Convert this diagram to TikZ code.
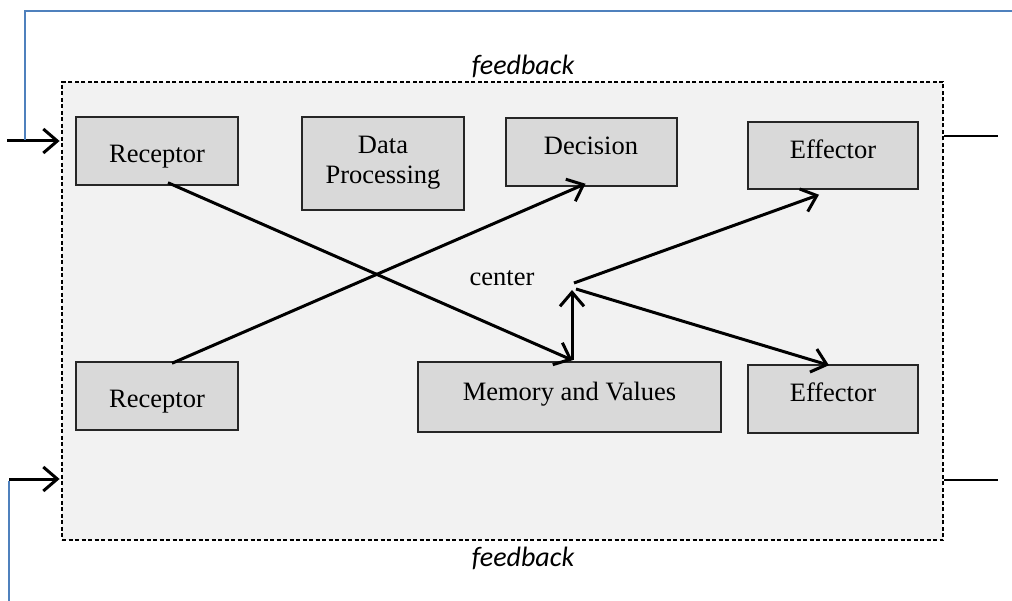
\documentclass[tikz,border=0pt]{standalone}
\usepackage{fontspec}
\setmainfont{Liberation Serif}
\newfontfamily\fbfont{Carlito}
\usetikzlibrary{arrows.meta,calc}
\definecolor{fbblue}{RGB}{79,129,189}
\definecolor{outerfill}{RGB}{242,242,242}
\definecolor{boxfill}{RGB}{217,217,217}
\tikzset{
  unit/.style={draw=black!85, line width=1.5pt, fill=boxfill, inner sep=0pt},
  lbl/.style={inner sep=0pt, anchor=base, align=center,
    font=\fontsize{26.5}{30}\selectfont},
  arr/.style={line width=3pt, -{Straight Barb[length=14pt,width=24pt,line width=3pt]}},
  plain/.style={line width=2.4pt},
  fbline/.style={draw=fbblue, line width=2.4pt},
  fblabel/.style={font=\fbfont\itshape\fontsize{28}{32}\selectfont, inner sep=0pt},
}
\begin{document}
\begin{tikzpicture}[x=1pt,y=-1pt]
\useasboundingbox (0,0) rectangle (1012,601);
% outer frame
\node[draw, fill=outerfill, line width=2.8pt, dash pattern=on 4pt off 2.5pt, minimum width=881pt, minimum height=458pt, inner sep=0pt] (frame) at (502.5,311) {};
% units
\node[unit, minimum width=162pt, minimum height=68pt] (rec1) at (157,151) {};
\node[unit, minimum width=162pt, minimum height=93pt] (dp) at (383,163.5) {};
\node[unit, minimum width=171pt, minimum height=68pt] (dec) at (591.5,152) {};
\node[unit, minimum width=170pt, minimum height=67pt] (eff1) at (833,155.5) {};
\node[unit, minimum width=162pt, minimum height=68pt] (rec2) at (157,396) {};
\node[unit, minimum width=303pt, minimum height=70pt] (mem) at (569.5,397) {};
\node[unit, minimum width=170pt, minimum height=68pt] (eff2) at (833,399) {};
% unit texts
\node[lbl] (rec1t) at (157,163) {Receptor};
\node[lbl] (dpt) at (383,184) {Data\\Processing};
\node[lbl] (dect) at (591,155) {Decision};
\node[lbl] (eff1t) at (833,159) {Effector};
\node[lbl] (rec2t) at (157,407) {Receptor};
\node[lbl] (memt) at (569.5,400) {Memory and Values};
\node[lbl] (eff2t) at (833,402) {Effector};
% labels
\node[lbl] (ctr) at (502,286) {center};
\node[fblabel] (fbtop) at (523,66) {feedback};
\node[fblabel] (fbbot) at (523,558) {feedback};
% junction coordinates
\coordinate (tip) at (572,290);
\coordinate (hubA) at (574,283);
\coordinate (hubB) at (576,289);
% connectors
\draw[arr] ([xshift=11pt,yshift=3pt]rec1.south) -- ([xshift=3pt,yshift=1pt]mem.north);
\draw[arr] ([xshift=15pt,yshift=-2pt]rec2.north) -- ([xshift=-6pt,yshift=3pt]dec.south);
\draw[arr] ([xshift=2.5pt,yshift=1pt]mem.north) -- (tip);
\draw[arr] (hubA) -- ([xshift=-14pt,yshift=-5pt]eff1.south);
\draw[arr] (hubB) -- ([xshift=-4pt,yshift=-1pt]eff2.north);
% inputs
\coordinate (inA) at (7,141);
\coordinate (inB) at (9,479);
\draw[arr] (inA) -- ([xshift=-1pt]frame.west |- inA);
\draw[arr] (inB) -- ([xshift=-1pt]frame.west |- inB);
% outputs
\coordinate (outA) at (998,136);
\coordinate (outB) at (998,480);
\draw[plain] (frame.east |- outA) -- (outA);
\draw[plain] (frame.east |- outB) -- (outB);
% feedback lines
\coordinate (fbL) at (25,11);
\coordinate (fbR) at (1012,11);
\coordinate (fbD) at (9,601);
\draw[fbline] (fbR) -- (fbL) -- (25,140);
\draw[fbline] (9,481) -- (fbD);
\end{tikzpicture}
\end{document}
